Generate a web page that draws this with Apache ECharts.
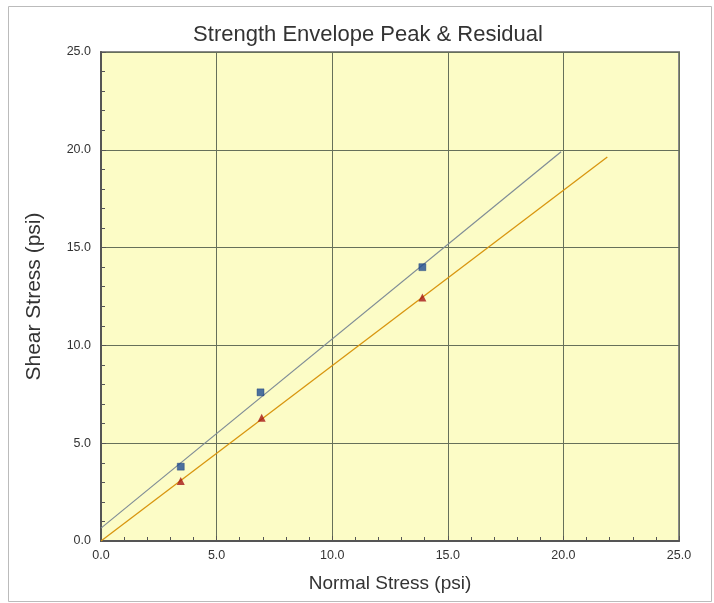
<!DOCTYPE html>
<html>
<head>
<meta charset="utf-8">
<script src="https://cdn.jsdelivr.net/npm/echarts@6/dist/echarts.min.js"></script>
<style>html,body{margin:0;padding:0;background:#fff}#c{width:714px;height:603px}</style>
</head>
<body>
<div id="c"></div>
<script>
var titleText = 'Strength Envelope Peak & Residual';
var xName = 'Normal Stress (psi)';
var yName = 'Shear Stress (psi)';
var peakPoints = [[3.45, 3.8], [6.9, 7.6], [13.9, 14.0]];
var residualPoints = [[3.45, 3.07], [6.95, 6.3], [13.9, 12.45]];
var peakLine = [[0, 0.66], [19.9, 19.9]];
var residualLine = [[0, 0], [21.9, 19.63]];

var chart = echarts.init(document.getElementById('c'), null, {renderer: 'canvas'});
var font = 'Liberation Sans, Arial, sans-serif';
chart.setOption({
  backgroundColor: '#fff',
  animation: false,
  title: {
    text: titleText, left: 363, top: 19, textAlign: 'center',
    textStyle: {fontFamily: font, fontSize: 22, fontWeight: 'normal', color: '#333'}
  },
  graphic: [{
    type: 'rect', shape: {x: 8.5, y: 6.5, width: 703, height: 595},
    style: {fill: 'none', stroke: '#bbb', lineWidth: 1}, z: -1
  }],
  grid: {left: 101, right: 35, top: 52, bottom: 62, show: true, backgroundColor: '#fcfcc6', borderColor: '#888', borderWidth: 2},
  xAxis: {
    type: 'value', min: 0, max: 25, interval: 5,
    name: xName, nameLocation: 'middle', nameGap: 33,
    nameTextStyle: {fontFamily: font, fontSize: 19, color: '#333'},
    axisLine: {show: true, onZero: false, lineStyle: {color: '#555', width: 2}},
    axisTick: {show: true, inside: true, length: 5, lineStyle: {color: '#555'}},
    minorTick: {show: true, splitNumber: 5, length: 4, lineStyle: {color: '#555'}},
    axisLabel: {fontFamily: font, fontSize: 12.5, color: '#333', margin: 8, formatter: function(v){return v.toFixed(1);}},
    splitLine: {show: true, lineStyle: {color: '#66705a', width: 1}}
  },
  yAxis: {
    type: 'value', min: 0, max: 25, interval: 5,
    name: yName, nameLocation: 'middle', nameGap: 56,
    nameTextStyle: {fontFamily: font, fontSize: 21, color: '#333'},
    axisLine: {show: true, onZero: false, lineStyle: {color: '#555', width: 2}},
    axisTick: {show: true, inside: true, length: 5, lineStyle: {color: '#555'}},
    minorTick: {show: true, splitNumber: 5, length: 4, lineStyle: {color: '#555'}},
    axisLabel: {fontFamily: font, fontSize: 12.5, color: '#333', margin: 10, formatter: function(v){return v.toFixed(1);}},
    splitLine: {show: true, lineStyle: {color: '#66705a', width: 1}}
  },
  series: [
    {type: 'line', data: peakLine, symbol: 'none', lineStyle: {color: '#7f8c96', width: 1.2}, silent: true},
    {type: 'line', data: residualLine, symbol: 'none', lineStyle: {color: '#d8950f', width: 1.3}, silent: true},
    {type: 'scatter', data: peakPoints, symbol: 'rect', symbolSize: 7, itemStyle: {color: '#1f4c92', borderColor: '#163a78', borderWidth: 0.5}, z: 5},
    {type: 'scatter', data: residualPoints, symbol: 'triangle', symbolSize: 8, itemStyle: {color: '#a51515'}, z: 5}
  ]
});
</script>
</body>
</html>
